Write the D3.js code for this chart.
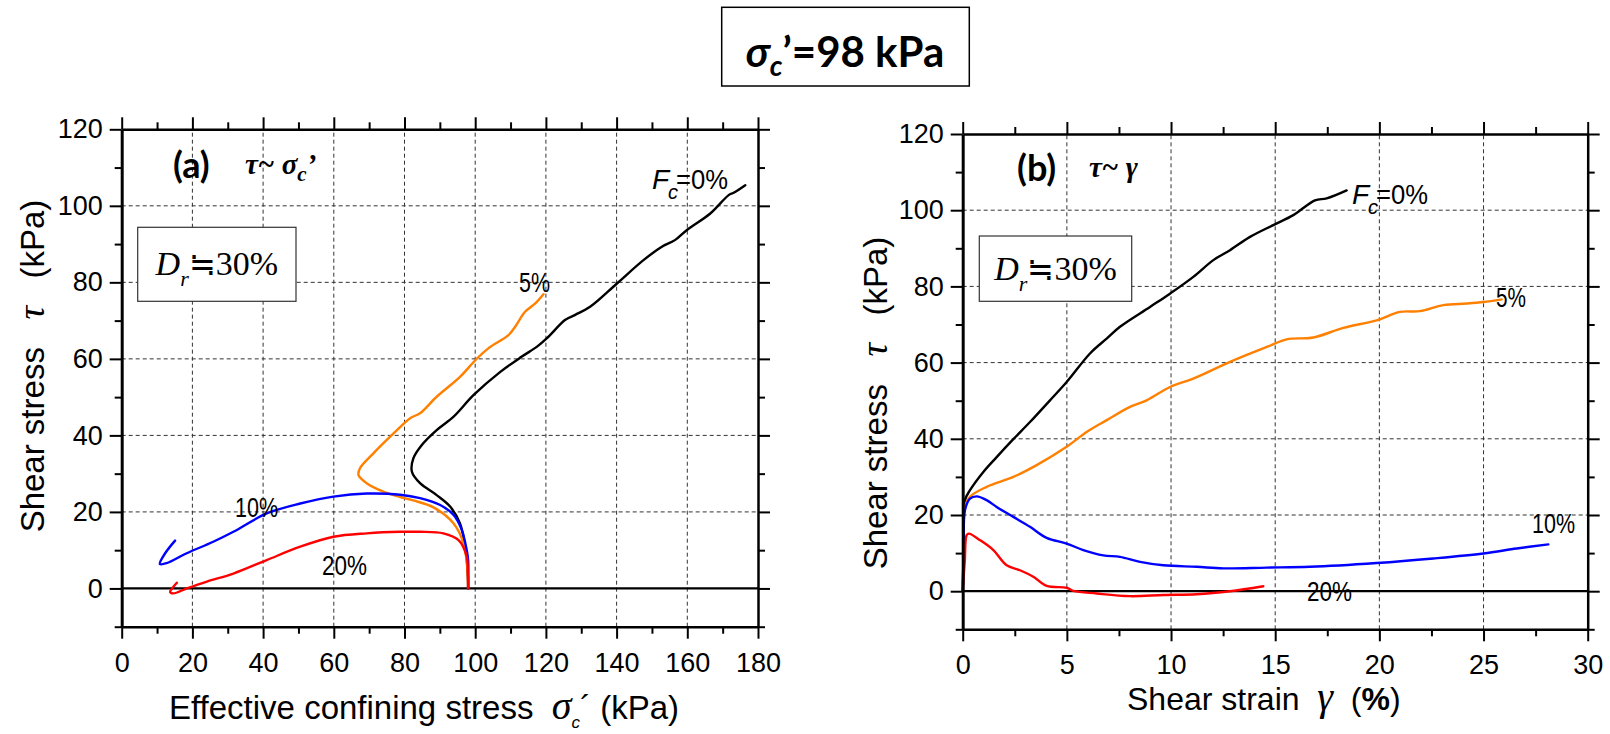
<!DOCTYPE html>
<meta charset="utf-8">
<style>
body { margin: 0; background: #fff; }
svg { font-family: "Liberation Sans", Arial, sans-serif; }
.grid line { stroke: #333; stroke-width: 1; stroke-dasharray: 4,3; }
.axis text { font-size: 27px; fill: #000; }
.axis line { stroke: #000; stroke-width: 2; }
.axis path { stroke: #000; stroke-width: 2.5; }
.curve { fill: none; stroke-width: 2.4; stroke-linejoin: round; stroke-linecap: round; }
</style>
<svg width="1610" height="734"></svg>
<script src="https://d3js.org/d3.v7.min.js"></script>
<script>

// tick values
var stressTicks = [0, 20, 40, 60, 80, 100, 120, 140, 160, 180];
var stressMinor = [10, 30, 50, 70, 90, 110, 130, 150, 170];
var strainTicks = [0, 5, 10, 15, 20, 25, 30];
var strainMinor = [2.5, 7.5, 12.5, 17.5, 22.5, 27.5];
var tauTicks = [0, 20, 40, 60, 80, 100, 120];
var tauMinor = [-10, 10, 30, 50, 70, 90, 110];

// (a) effective stress path: [sigma_c', tau]
var fc0Stress = [[98,0],[97.9,4],[97.3,10],[95.7,17],[92.9,21.4],[89.1,24.4],[84.4,27.5],[82.1,30.5],[82.5,34],[84.9,37.5],[89.1,41.4],[93.9,44.9],[99.5,50.5],[107.1,56.6],[113.2,60.6],[117.5,63.2],[120.3,65.4],[125.5,70.2],[128.3,71.5],[132.5,73.6],[140.1,79.7],[147.6,85.8],[152.8,89.3],[156.6,91.1],[159.9,93.7],[166.5,98],[171.7,102.8],[173.1,103.4],[176.4,105.4]];
var fc5Stress = [[98,0],[97.8,5],[96.7,11.8],[93.9,17],[88.2,21.2],[82.5,23],[78.8,23.9],[74,25.3],[69.3,27.5],[67,29.6],[67.4,31.4],[71.2,35.3],[76.9,40.5],[81.6,44.5],[84.4,45.8],[89.1,50.1],[95.7,55.3],[100.5,60.1],[103.8,62.8],[109.4,66.2],[111.3,68.4],[114.1,72.3],[117,74.5],[119.3,76.9]];
var fc10Stress = [[98,0],[98,7.4],[97.6,10],[96.2,15.3],[93.9,19.2],[90.1,21.8],[84.4,23.6],[78.8,24.5],[69.3,24.8],[59.9,24],[50.5,22.2],[41,19.6],[31.6,14.8],[25.9,12.2],[18.4,9.2],[12.7,6.6],[10.8,6.4],[12.3,9.2],[15.1,12.5]];
var fc20Stress = [[98,0],[97.9,4],[97.6,8.3],[95.3,12.6],[91,14.4],[84.4,14.8],[78.8,14.8],[69.3,14.4],[59.9,13.5],[50.5,10.9],[41,7.4],[31.6,3.9],[24.1,1.8],[18.4,0],[14.6,-1.3],[13.7,-0.9],[14.6,0.4],[15.6,1.5]];

// (b) stress-strain: [gamma %, tau]
var fc0Strain = [[0,0],[0.05,12],[0.11,23.9],[0.35,26.5],[0.99,31.3],[1.63,35.2],[2.43,39.9],[3.23,44.4],[4.19,50.1],[4.99,54.9],[6.11,62.4],[6.91,66.3],[7.55,69.4],[8.99,74.6],[9.95,78.1],[11.07,82.5],[12.03,86.9],[12.83,89.5],[13.79,93],[14.91,96.1],[15.87,98.7],[16.91,102.6],[17.47,103.1],[18.43,105.2]];
var fc5Strain = [[0,0],[0.05,12],[0.11,22.1],[0.35,24.8],[1.15,27.4],[2.43,30],[3.55,33.1],[4.99,37.9],[5.95,41.8],[6.91,44.9],[8.03,48.4],[8.83,50.1],[9.95,53.6],[11.07,55.8],[12.83,60.2],[14.59,64.1],[15.55,66.1],[16.83,66.6],[18.27,69.1],[19.87,71.1],[20.99,73.3],[21.95,73.5],[23.07,75.1],[24.19,75.5],[24.99,75.9],[25.87,76.6]];
var fc10Strain = [[0,0],[0.05,10],[0.11,21.3],[0.35,24.3],[0.67,24.9],[1.15,23.9],[1.63,22.1],[2.43,19.5],[3.23,16.9],[4.03,14],[4.99,12.5],[5.79,10.8],[6.75,9.4],[7.55,9],[8.51,7.7],[9.63,6.8],[11.23,6.4],[12.51,6],[14.59,6.2],[16.67,6.4],[19.87,7.4],[22.59,8.6],[24.99,9.9],[26.59,11.2],[28.11,12.3]];
var fc20Strain = [[0,0],[0.1,8],[0.19,14.7],[0.3,15.1],[0.83,13.4],[1.47,10.8],[2.11,6.8],[2.75,5.5],[3.39,3.8],[4.03,1.4],[4.99,0.9],[5.31,0.1],[6.43,-0.6],[8.03,-1.3],[9.63,-1.0],[11.23,-0.8],[12.83,0],[14.43,1.3]];

var colors = {"0": "#000000", "5": "#ff8000", "10": "#0000ff", "20": "#ff0000"};

var svg = d3.select("svg");
var NB = "\u00a0";

var leftX = d3.scaleLinear().domain([0, 180]).range([121.7, 758]);
var leftY = d3.scaleLinear().domain([-10, 120]).range([626.7, 129.3]);
var rightX = d3.scaleLinear().domain([0, 30]).range([962.7, 1587.7]);
var rightY = d3.scaleLinear().domain([-10, 120]).range([629.3, 134]);

function drawPanel(x, y, xMajor, xMinor, series) {
  var g = svg.append("g");

  // dashed grid
  var grid = g.append("g").attr("class", "grid");
  grid.selectAll(".gx").data(xMajor.slice(1, -1)).enter().append("line")
      .attr("x1", d => x(d)).attr("x2", d => x(d))
      .attr("y1", y(-10)).attr("y2", y(120));
  grid.selectAll(".gy").data(tauTicks.filter(d => d > 0 && d < 120)).enter().append("line")
      .attr("x1", x.range()[0]).attr("x2", x.range()[1])
      .attr("y1", d => y(d)).attr("y2", d => y(d));

  // zero line
  g.append("line")
      .attr("x1", x.range()[0]).attr("x2", x.range()[1])
      .attr("y1", y(0)).attr("y2", y(0))
      .attr("stroke", "#000").attr("stroke-width", 2.2);

  // curves
  var line = d3.line().x(d => x(d[0])).y(d => y(d[1])).curve(d3.curveCatmullRom.alpha(0.5));
  series.forEach(function(s) {
    g.append("path").attr("class", "curve")
        .attr("stroke", colors[s.fc])
        .attr("d", line(s.data));
  });

  // axes
  var bottom = g.append("g").attr("class", "axis")
      .attr("transform", "translate(0," + y(-10) + ")");
  bottom.call(d3.axisBottom(x).tickValues(xMajor).tickSize(12).tickSizeOuter(0).tickPadding(14));
  bottom.append("g").call(d3.axisBottom(x).tickValues(xMinor).tickSize(7).tickFormat(""))
      .select(".domain").remove();

  var top = g.append("g").attr("class", "axis")
      .attr("transform", "translate(0," + y(120) + ")");
  top.call(d3.axisTop(x).tickValues(xMajor).tickSize(12).tickSizeOuter(0).tickFormat(""));
  top.append("g").call(d3.axisTop(x).tickValues(xMinor).tickSize(7).tickFormat(""))
      .select(".domain").remove();

  var left = g.append("g").attr("class", "axis")
      .attr("transform", "translate(" + x.range()[0] + ",0)");
  left.call(d3.axisLeft(y).tickValues(tauTicks).tickSize(12).tickSizeOuter(0).tickPadding(7));
  left.append("g").call(d3.axisLeft(y).tickValues(tauMinor).tickSize(7).tickFormat(""))
      .select(".domain").remove();
  left.select(".domain").style("stroke-width", 3);

  var right = g.append("g").attr("class", "axis")
      .attr("transform", "translate(" + x.range()[1] + ",0)");
  right.call(d3.axisRight(y).tickValues(tauTicks).tickSize(12).tickSizeOuter(0).tickFormat(""));
  right.append("g").call(d3.axisRight(y).tickValues(tauMinor).tickSize(7).tickFormat(""))
      .select(".domain").remove();

  g.selectAll(".axis text").attr("font-family", "Liberation Sans, Arial, sans-serif");
  return g;
}

drawPanel(leftX, leftY, stressTicks, stressMinor, [
  {fc: "0", data: fc0Stress}, {fc: "5", data: fc5Stress},
  {fc: "10", data: fc10Stress}, {fc: "20", data: fc20Stress}]);
drawPanel(rightX, rightY, strainTicks, strainMinor, [
  {fc: "0", data: fc0Strain}, {fc: "5", data: fc5Strain},
  {fc: "10", data: fc10Strain}, {fc: "20", data: fc20Strain}]);

// small condensed labels on curves
function pctLabel(x, y, txt, w) {
  svg.append("text").attr("x", x).attr("y", y)
      .attr("font-size", 28).attr("textLength", w).attr("lengthAdjust", "spacingAndGlyphs")
      .text(txt);
}
function fcLabel(x, y) {
  var t = svg.append("text").attr("x", x).attr("y", y).attr("font-size", 28);
  t.append("tspan").attr("font-style", "italic").text("F");
  t.append("tspan").attr("font-style", "italic").attr("font-size", 20).attr("dy", 10).attr("dx", -1).text("c");
  t.append("tspan").attr("dy", -10).attr("dx", -2).attr("textLength", 52).attr("lengthAdjust", "spacingAndGlyphs").text("=0%");
}
pctLabel(519, 292, "5%", 31);
pctLabel(235, 517, "10%", 43);
pctLabel(322, 575, "20%", 45);
fcLabel(652, 189);
pctLabel(1496, 307, "5%", 30);
pctLabel(1532, 533, "10%", 43);
pctLabel(1307, 601, "20%", 45);
fcLabel(1352, 204);

// Dr boxes
function drBox(x, y, w, h) {
  svg.append("rect").attr("x", x).attr("y", y).attr("width", w).attr("height", h)
      .attr("fill", "#fff").attr("stroke", "#333").attr("stroke-width", 1.2);
  var t = svg.append("text").attr("x", x + w / 2).attr("y", y + h / 2 + 11)
      .attr("text-anchor", "middle")
      .attr("font-family", "Liberation Serif, Times New Roman, serif").attr("font-size", 34);
  t.append("tspan").attr("font-style", "italic").text("D");
  t.append("tspan").attr("font-style", "italic").attr("font-size", 22).attr("dy", 11).text("r");
  t.append("tspan").attr("dy", -11).attr("font-family", "Noto Sans CJK JP, sans-serif").attr("font-size", 32).text("\u2252");
  t.append("tspan").text("30%");
}
drBox(137.7, 227.3, 158.3, 74);
drBox(979.3, 236, 152.4, 65.3);

// panel titles
function panelTitle(x, y, letter, sym) {
  svg.append("text").attr("x", x).attr("y", y)
      .attr("font-family", "Lato, Liberation Sans, sans-serif").attr("font-weight", "bold")
      .attr("font-size", 36).text("(" + letter + ")");
  var t = svg.append("text").attr("x", x + 72).attr("y", y - 4)
      .attr("font-family", "Liberation Serif, Times New Roman, serif")
      .attr("font-weight", "bold").attr("font-style", "italic").attr("font-size", 29);
  t.append("tspan").text("\u03c4~ ");
  if (sym === "sigma") {
    t.append("tspan").text("\u03c3");
    t.append("tspan").attr("font-size", 21).attr("dy", 7).text("c");
    t.append("tspan").attr("dy", -7).text("\u2019");
  } else {
    t.append("tspan").text("\u03b3");
  }
}
panelTitle(173, 178, "a", "sigma");
panelTitle(1017, 181, "b", "gamma");

// axis titles
function yTitle(cx, cy) {
  var t = svg.append("text").attr("transform", "translate(" + cx + "," + cy + ") rotate(-90)")
      .attr("text-anchor", "middle").attr("font-size", 33);
  t.append("tspan").text("Shear" + NB + "stress" + NB + NB + NB);
  t.append("tspan").attr("font-style", "italic").attr("font-family", "Liberation Serif, serif").attr("font-size", 38).text("\u03c4");
  t.append("tspan").text(NB + NB + NB + "(kPa)");
}
yTitle(44, 366);
yTitle(887, 403);

var xa = svg.append("text").attr("x", 169).attr("y", 719).attr("font-size", 33);
xa.append("tspan").text("Effective confining stress" + NB + NB);
xa.append("tspan").attr("font-style", "italic").attr("font-family", "Liberation Serif, serif").attr("font-size", 40).text("\u03c3");
xa.append("tspan").attr("font-style", "italic").attr("font-size", 17).attr("dy", 9).text("c");
xa.append("tspan").attr("dy", -9).text("\u00b4" + NB + "(kPa)");

var xb = svg.append("text").attr("x", 1127).attr("y", 710).attr("font-size", 32);
xb.append("tspan").text("Shear" + NB + "strain" + NB + NB);
xb.append("tspan").attr("font-style", "italic").attr("font-family", "Liberation Serif, serif").attr("font-size", 40).text("\u03b3");
xb.append("tspan").text(NB + NB + "(");
xb.append("tspan").attr("font-weight", "bold").text("%");
xb.append("tspan").text(")");

// main title box
svg.append("rect").attr("x", 721.7).attr("y", 7.3).attr("width", 247.6).attr("height", 78.7)
    .attr("fill", "#fff").attr("stroke", "#000").attr("stroke-width", 1.5);
var tt = svg.append("text").attr("x", 845).attr("y", 67).attr("text-anchor", "middle")
    .attr("font-family", "Lato, Liberation Sans, sans-serif").attr("font-weight", "bold").attr("font-size", 42);
tt.append("tspan").attr("font-style", "italic").text("\u03c3");
tt.append("tspan").attr("font-style", "italic").attr("font-size", 28).attr("dy", 9).text("c");
tt.append("tspan").attr("dy", -9).text("\u2019=98 kPa");

</script>
